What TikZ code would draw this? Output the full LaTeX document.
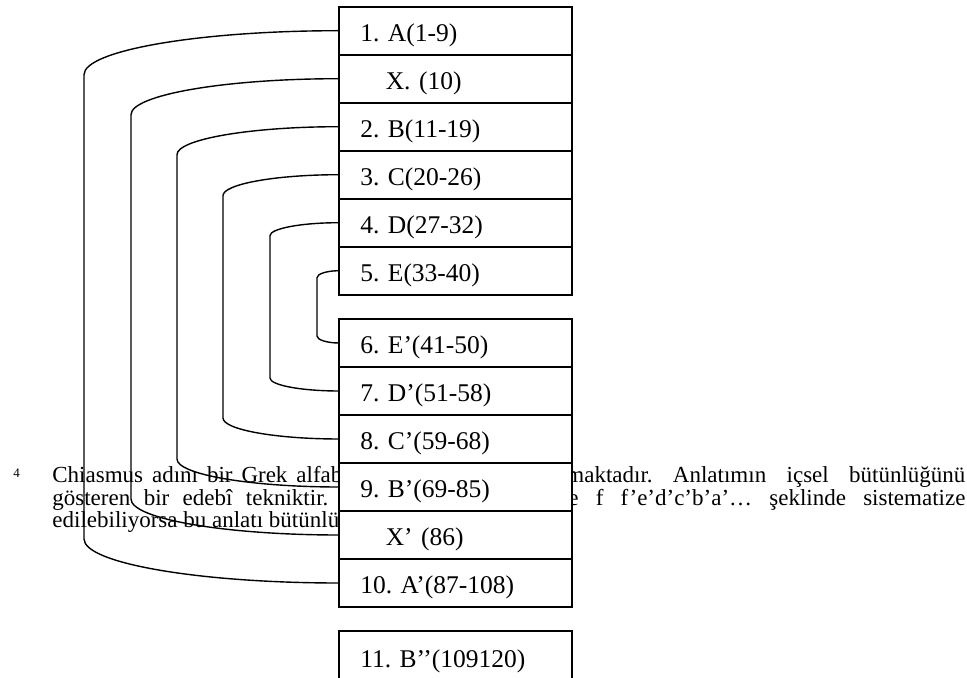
\documentclass[tikz,border=0pt]{standalone}
\usepackage{fontspec}
\setmainfont{Liberation Serif}
\frenchspacing
\usetikzlibrary{positioning,calc}
\tikzset{
  rowbox/.style={draw, fill=white, line width=1pt, outer sep=0pt, anchor=north west,
    minimum height=24pt, text width=95.35pt, inner xsep=10.5pt, align=left,
    text height=13pt, text depth=2.3pt, font=\fontsize{12.75}{15}\selectfont},
  note/.style={inner sep=0pt, anchor=base west, font=\fontsize{11.5}{13}\selectfont},
  link/.style={line width=0.7pt}
}
\begin{document}
\begin{tikzpicture}[x=0.5pt,y=-0.5pt]
\useasboundingbox (0,0) rectangle (967,678);
% footnote lying under the boxes
\node[note,font=\fontsize{6.5}{7}\selectfont] (fnmark) at (13,477) {4};
\node[note] (noteAl) at (52,482) {\makebox[145pt][s]{Chiasmus adını bir Grek alfab}};
\node[note] (noteAr) at (566,482) {\makebox[199.5pt][s]{maktadır. Anlatımın içsel bütünlüğünü}};
\node[note] (noteBl) at (52,505) {\makebox[138pt][s]{gösteren bir edebî tekniktir.}};
\node[note] (noteBr) at (568,505) {\makebox[198.5pt][s]{e f f’e’d’c’b’a’… şeklinde sistematize}};
\node[note] (noteC) at (52,527.5) {edilebiliyorsa bu anlatı bütünlü};
% first half
\node[rowbox] (rA) at (339.3,6.7) {1. A(1-9)};
\node[rowbox,below=0pt of rA] (rX) {\hspace*{1em}X. (10)};
\node[rowbox,below=0pt of rX] (rB) {2. B(11-19)};
\node[rowbox,below=0pt of rB] (rC) {3. C(20-26)};
\node[rowbox,below=0pt of rC] (rD) {4. D(27-32)};
\node[rowbox,below=0pt of rD] (rE) {5. E(33-40)};
% second half
\node[rowbox] (rEp) at (339.3,319) {6. E’(41-50)};
\node[rowbox,below=0pt of rEp] (rDp) {7. D’(51-58)};
\node[rowbox,below=0pt of rDp] (rCp) {8. C’(59-68)};
\node[rowbox,below=0pt of rCp] (rBp) {9. B’(69-85)};
\node[rowbox,below=0pt of rBp] (rXp) {\hspace*{1em}X’ (86)};
\node[rowbox,below=0pt of rXp] (rAp) {10. A’(87-108)};
\node[rowbox,below=12pt of rAp,minimum height=26pt] (rBpp) {11. B’’(109120)};
% chiastic links
\foreach \pa/\pb/\rx/\ry in {rA/rAp/255.3/44, rX/rXp/208.3/36, rB/rBp/162.3/28,
    rC/rCp/116.3/21, rD/rDp/69.3/13, rE/rEp/22.3/7}
  \draw[link] (\pa.west) .. controls +({-0.55*\rx},0) and +(0,{-0.55*\ry}) .. ++(-\rx,\ry)
    -- ($(\pb.west)+(-\rx,-\ry)$) .. controls +(0,{0.55*\ry}) and +({-0.55*\rx},0) .. (\pb.west);
\end{tikzpicture}
\end{document}
